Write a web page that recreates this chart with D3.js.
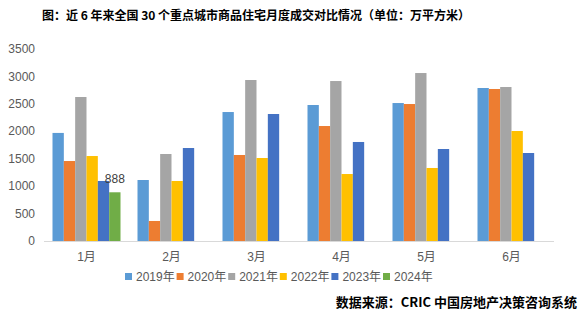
<!DOCTYPE html>
<html>
<head>
<meta charset="utf-8">
<script src="https://cdn.jsdelivr.net/npm/d3@7"></script>
<style>
body { margin: 0; background: #fff; }
svg { font-family: "Liberation Sans", Arial, "Noto Sans CJK SC", sans-serif; }
.title, .source { font-family: "Noto Sans CJK SC", sans-serif; font-weight: bold; fill: #000; }
.axis text { fill: #595959; font-size: 12px; }
</style>
</head>
<body>
<svg width="583" height="321"></svg>
<script>
var months = ["1月", "2月", "3月", "4月", "5月", "6月"];
var years = ["2019年", "2020年", "2021年", "2022年", "2023年", "2024年"];
var colors = ["#5B9BD5", "#ED7D31", "#A5A5A5", "#FFC000", "#4472C4", "#70AD47"];
var yTicks = [0, 500, 1000, 1500, 2000, 2500, 3000, 3500];

// values per year, one per month (null = no data)
var v2019 = [1970, 1112, 2351, 2479, 2515, 2789];
var v2020 = [1458, 365, 1568, 2096, 2497, 2771];
var v2021 = [2625, 1586, 2935, 2916, 3062, 2807];
var v2022 = [1549, 1094, 1513, 1221, 1331, 2005];
var v2023 = [1094, 1695, 2315, 1805, 1677, 1604];
var v2024 = [888, null, null, null, null, null];
var series = [v2019, v2020, v2021, v2022, v2023, v2024];

var svg = d3.select("svg"),
margin = {top: 49, right: 29, bottom: 80, left: 44},
width = +svg.attr("width") - margin.left - margin.right,
height = +svg.attr("height") - margin.top - margin.bottom;

// category band = 6 bars + 150% gap
var x = d3.scaleBand().domain(months).range([0, width]).padding(0);
var inner = x.bandwidth() * 6 / 7.5;
var x1 = d3.scaleBand().domain(d3.range(years.length)).range([0, inner]);
var off = (x.bandwidth() - inner) / 2;
var y = d3.scaleLinear().domain([0, 3500]).range([height, 0]);

var g = svg.append("g").attr("transform", "translate(" + margin.left + "," + margin.top + ")");

svg.append("text")
    .attr("class", "title")
    .attr("x", 256)
    .attr("y", 20)
    .attr("text-anchor", "middle")
    .style("font-size", "12px")
    .text("图：近 6 年来全国 30 个重点城市商品住宅月度成交对比情况（单位：万平方米）");

g.append("g")
    .attr("class", "axis")
    .selectAll("text")
    .data(yTicks)
    .enter().append("text")
    .attr("x", -9)
    .attr("y", function(d) { return y(d); })
    .attr("dy", "0.35em")
    .attr("text-anchor", "end")
    .text(function(d) { return d; });

months.forEach(function(m, i) {
    series.forEach(function(s, j) {
        if (s[i] == null) return;
        g.append("rect")
            .attr("x", x(m) + off + x1(j))
            .attr("y", y(s[i]))
            .attr("width", x1.bandwidth())
            .attr("height", height - y(s[i]))
            .attr("fill", colors[j]);
    });
});

g.append("line")
    .attr("x1", 0).attr("x2", width)
    .attr("y1", height + 0.5).attr("y2", height + 0.5)
    .attr("stroke", "#D9D9D9");

g.append("g")
    .attr("class", "axis")
    .selectAll("text")
    .data(months)
    .enter().append("text")
    .attr("x", function(d) { return x(d) + x.bandwidth() / 2; })
    .attr("y", height + 20)
    .attr("text-anchor", "middle")
    .text(function(d) { return d; });

// 2024 data label
g.append("text")
    .attr("x", x("1月") + off + x1(5) + x1.bandwidth() / 2)
    .attr("y", y(888) - 9)
    .attr("text-anchor", "middle")
    .style("font-size", "12px")
    .attr("fill", "#404040")
    .text("888");

var legend = svg.append("g").attr("transform", "translate(125,277)");
var item = legend.selectAll("g")
    .data(years)
    .enter().append("g")
    .attr("transform", function(d, i) { return "translate(" + (i * 51.6) + ",0)"; });
item.append("rect")
    .attr("x", 0).attr("y", -4)
    .attr("width", 7).attr("height", 7)
    .attr("fill", function(d, i) { return colors[i]; });
item.append("text")
    .attr("x", 11)
    .attr("dy", "0.35em")
    .attr("fill", "#595959")
    .style("font-size", "12px")
    .text(function(d) { return d; });

svg.append("text")
    .attr("class", "source")
    .attr("x", 577)
    .attr("y", 307)
    .attr("text-anchor", "end")
    .style("font-size", "13px")
    .text("数据来源：CRIC 中国房地产决策咨询系统");
</script>
</body>
</html>
